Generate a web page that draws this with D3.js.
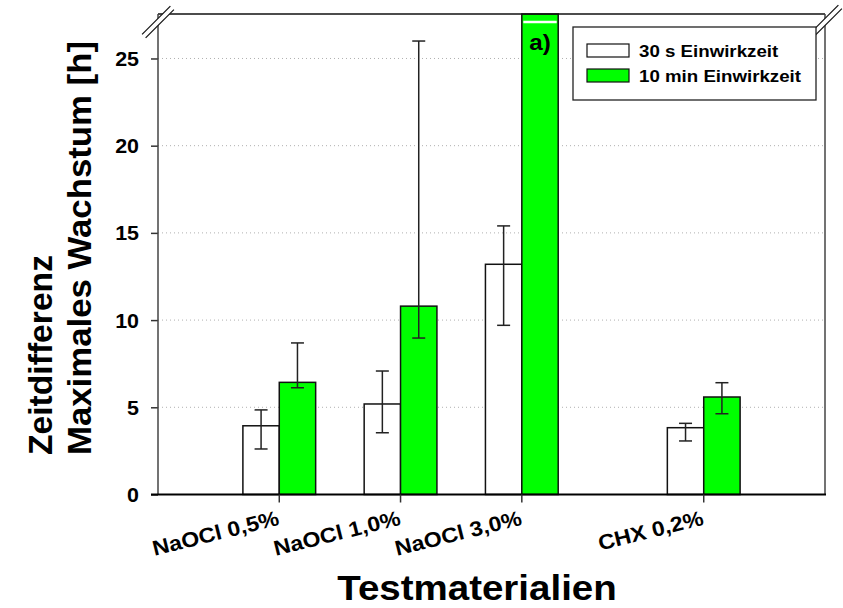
<!DOCTYPE html>
<html>
<head>
<meta charset="utf-8">
<script src="https://cdn.jsdelivr.net/npm/d3@7"></script>
<style>
  body { margin: 0; background: #fff; }
  svg { display: block; font-family: "Liberation Sans", Arial, sans-serif; font-weight: bold; }
</style>
</head>
<body>
<svg id="chart" width="843" height="608"></svg>
<script>
// categories and their x positions (CHX sits one and a half slots further right)
const categories = ['NaOCl 0,5%', 'NaOCl 1,0%', 'NaOCl 3,0%', 'CHX 0,2%']
const positions = [1, 2, 3, 4.5]

// 30 s Einwirkzeit
const shortMean = [3.94, 5.19, 13.2, 3.83]
const shortLow = [2.61, 3.54, 9.70, 3.07]
const shortHigh = [4.85, 7.08, 15.4, 4.08]

// 10 min Einwirkzeit (NaOCl 3,0% is off the scale, marked a))
const longMean = [6.43, 10.8, 40, 5.59]
const longLow = [6.12, 8.97, null, 4.63]
const longHigh = [8.69, 26.0, null, 6.41]

const yTicks = [0, 5, 10, 15, 20, 25]
const seriesNames = ['30 s Einwirkzeit', '10 min Einwirkzeit']
const seriesColors = ['#ffffff', '#00ff00']

const svg = d3.select('#chart')

const pLeft = 158, pRight = 825, pTop = 14, pBottom = 494.5
const barW = 0.3
const wide = 1.1 // the original lettering runs a bit wider than Liberation Sans

const x = d3.scaleLinear().domain([0, 5.5]).range([pLeft, pRight])
const y = d3.scaleLinear().domain([0, 27.55]).range([pBottom, pTop])

// dotted grid
svg.append('g')
    .selectAll('line')
    .data(yTicks.filter(d => d > 0))
    .join('line')
    .attr('x1', pLeft).attr('x2', pRight)
    .attr('y1', d => y(d)).attr('y2', d => y(d))
    .attr('stroke', '#b0b0b0')
    .attr('stroke-width', 1)
    .attr('stroke-dasharray', '1,3')

// build bar rows from the arrays
const bars = []
categories.forEach((c, i) => {
    bars.push({ cat: c, pos: positions[i], off: -barW, v: shortMean[i], lo: shortLow[i], hi: shortHigh[i], s: 0 })
    bars.push({ cat: c, pos: positions[i], off: 0, v: longMean[i], lo: longLow[i], hi: longHigh[i], s: 1 })
})

const clipTop = d => Math.max(y(d.v), pTop)

svg.append('g')
    .selectAll('rect')
    .data(bars)
    .join('rect')
    .attr('x', d => x(d.pos + d.off))
    .attr('width', x(barW) - x(0))
    .attr('y', clipTop)
    .attr('height', d => pBottom - clipTop(d))
    .attr('fill', d => seriesColors[d.s])
    .attr('stroke', '#111')
    .attr('stroke-width', 1.5)

// break marker on the off-scale bar
const broken = bars.filter(d => y(d.v) < pTop)
svg.append('g')
    .selectAll('line')
    .data(broken)
    .join('line')
    .attr('x1', d => x(d.pos + d.off) + 1.5)
    .attr('x2', d => x(d.pos + d.off + barW) - 1.5)
    .attr('y1', 22).attr('y2', 22)
    .attr('stroke', '#fff')
    .attr('stroke-width', 2.5)

svg.append('g')
    .selectAll('text')
    .data(broken)
    .join('text')
    .attr('transform', d => `translate(${x(d.pos + d.off + barW / 2)},50) scale(${wide},1)`)
    .attr('text-anchor', 'middle')
    .attr('font-size', 22)
    .text('a)')

// error bars
const errs = bars.filter(d => d.lo != null)
const capW = 13
const eb = svg.append('g')
    .attr('stroke', '#222')
    .attr('stroke-width', 1.5)
eb.selectAll('.stem')
    .data(errs)
    .join('line')
    .attr('class', 'stem')
    .attr('x1', d => x(d.pos + d.off + barW / 2))
    .attr('x2', d => x(d.pos + d.off + barW / 2))
    .attr('y1', d => y(d.lo)).attr('y2', d => y(d.hi))
eb.selectAll('.capHi')
    .data(errs)
    .join('line')
    .attr('class', 'capHi')
    .attr('x1', d => x(d.pos + d.off + barW / 2) - capW / 2)
    .attr('x2', d => x(d.pos + d.off + barW / 2) + capW / 2)
    .attr('y1', d => y(d.hi)).attr('y2', d => y(d.hi))
eb.selectAll('.capLo')
    .data(errs)
    .join('line')
    .attr('class', 'capLo')
    .attr('x1', d => x(d.pos + d.off + barW / 2) - capW / 2)
    .attr('x2', d => x(d.pos + d.off + barW / 2) + capW / 2)
    .attr('y1', d => y(d.lo)).attr('y2', d => y(d.lo))

// frame: top and right
svg.append('line')
    .attr('x1', pLeft).attr('x2', pRight).attr('y1', pTop).attr('y2', pTop)
    .attr('stroke', '#111').attr('stroke-width', 1.5)
svg.append('line')
    .attr('x1', pRight).attr('x2', pRight).attr('y1', pTop).attr('y2', pBottom)
    .attr('stroke', '#444').attr('stroke-width', 1.5)

// y axis
const yAxis = svg.append('g')
    .attr('transform', `translate(${pLeft},0)`)
    .call(d3.axisLeft(y).tickValues(yTicks).tickSize(7).tickPadding(10))
yAxis.select('.domain').remove()
yAxis.append('line')
    .attr('y1', pTop).attr('y2', pBottom)
    .attr('stroke', '#444').attr('stroke-width', 1.5)
yAxis.selectAll('.tick line').attr('stroke', '#333').attr('stroke-width', 1.5)
yAxis.selectAll('.tick text')
    .attr('font-size', 19.5)
    .attr('font-family', '"Liberation Sans", Arial, sans-serif')
    .attr('font-weight', 'bold')
    .attr('fill', '#000')
    .attr('x', null)
    .attr('dy', null)
    .attr('transform', `translate(-19,7) scale(${wide},1)`)

// x axis
const xAxis = svg.append('g')
    .attr('transform', `translate(0,${pBottom})`)
xAxis.append('line')
    .attr('x1', pLeft - 7).attr('x2', pRight + 1)
    .attr('stroke', '#000').attr('stroke-width', 2.2)
xAxis.selectAll('.tk')
    .data(positions)
    .join('line')
    .attr('class', 'tk')
    .attr('x1', d => x(d)).attr('x2', d => x(d))
    .attr('y1', 0).attr('y2', 8)
    .attr('stroke', '#333').attr('stroke-width', 1.5)
xAxis.selectAll('.lbl')
    .data(categories)
    .join('text')
    .attr('class', 'lbl')
    .attr('transform', (d, i) => `translate(${x(positions[i]) + 1},30) rotate(-14) scale(${wide},1)`)
    .attr('text-anchor', 'end')
    .attr('font-size', 21)
    .text(d => d)

// axis break marks
const breaks = svg.append('g')
;[[pLeft, 22], [pRight + 1, 21]].forEach(([bx, by]) => {
    const g = breaks.append('g').attr('transform', `translate(${bx},${by}) rotate(-45)`)
    g.append('rect').attr('x', -20).attr('y', -2.5).attr('width', 40).attr('height', 5).attr('fill', '#fff')
    g.append('line').attr('x1', -20).attr('x2', 20).attr('y1', -2.5).attr('y2', -2.5).attr('stroke', '#111').attr('stroke-width', 1.2)
    g.append('line').attr('x1', -20).attr('x2', 20).attr('y1', 2.5).attr('y2', 2.5).attr('stroke', '#111').attr('stroke-width', 1.2)
})

// legend
const legend = svg.append('g').attr('transform', 'translate(573,27)')
legend.append('rect')
    .attr('width', 243).attr('height', 73)
    .attr('fill', '#fff').attr('stroke', '#222').attr('stroke-width', 1.3)
const item = legend.selectAll('.item')
    .data(seriesNames)
    .join('g')
    .attr('class', 'item')
    .attr('transform', (d, i) => `translate(14,${17 + i * 25})`)
item.append('rect')
    .attr('width', 42).attr('height', 13)
    .attr('fill', (d, i) => seriesColors[i])
    .attr('stroke', '#111').attr('stroke-width', 1.2)
item.append('text')
    .attr('transform', `translate(52,12.5) scale(${wide},1)`)
    .attr('font-size', 17)
    .text(d => d)

// axis titles
svg.append('text')
    .attr('transform', 'translate(52,455) rotate(-90)')
    .attr('font-size', 33)
    .attr('textLength', 200)
    .attr('lengthAdjust', 'spacingAndGlyphs')
    .text('Zeitdifferenz')
svg.append('text')
    .attr('transform', 'translate(91,455) rotate(-90)')
    .attr('font-size', 34)
    .attr('textLength', 414)
    .attr('lengthAdjust', 'spacingAndGlyphs')
    .text('Maximales Wachstum [h]')
svg.append('text')
    .attr('transform', `translate(477,600) scale(${wide},1)`)
    .attr('text-anchor', 'middle')
    .attr('font-size', 35)
    .text('Testmaterialien')
</script>
</body>
</html>
